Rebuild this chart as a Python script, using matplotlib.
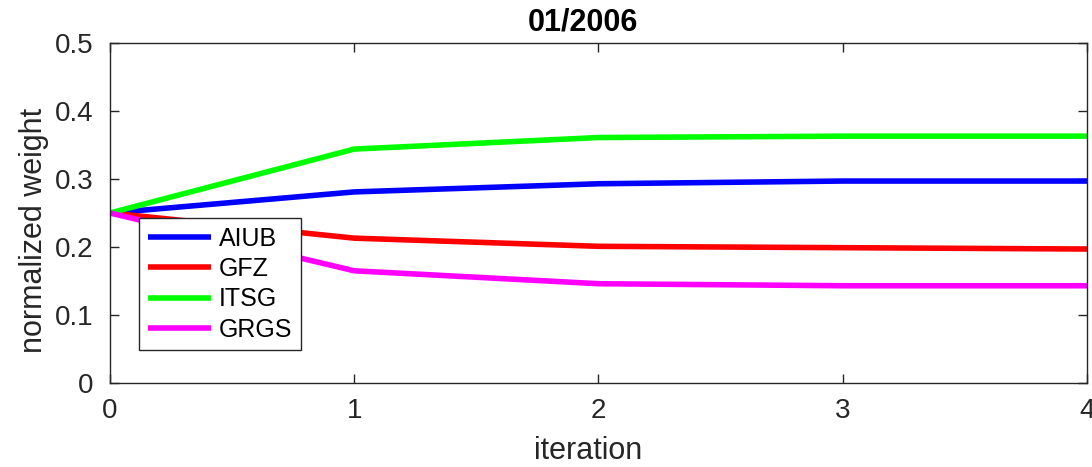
import numpy as np
from matplotlib import pyplot as plt

plt.rcParams['font.family'] = ['Liberation Sans', 'DejaVu Sans']

iterations = [0, 1, 2, 3, 4]
aiub = [0.250, 0.281, 0.293, 0.297, 0.297]
gfz = [0.250, 0.213, 0.201, 0.199, 0.197]
itsg = [0.250, 0.344, 0.361, 0.363, 0.363]
grgs = [0.250, 0.165, 0.146, 0.143, 0.143]

names = ['AIUB', 'GFZ', 'ITSG', 'GRGS']
colors = ['#0000ff', '#ff0000', '#00ff00', '#ff00ff']

# matlab-like sizes: ticks 20, labels/title 1.1x, legend 0.9x
tick_fs = 20
label_fs = 22
legend_fs = 18
edge = '#262626'

fig = plt.figure(figsize=(10.92, 4.67), dpi=100)
ax = fig.add_axes([0.1007, 0.1799, 0.8947, 0.728])

for series, name, c in zip([aiub, gfz, itsg, grgs], names, colors):
    ax.plot(iterations, series, color=c, lw=4, label=name, solid_capstyle='butt')

ax.set_xlim(0, 4)
ax.set_ylim(0, 0.5)
ax.set_xticks(iterations)
ax.set_yticks(np.arange(0, 0.51, 0.1))
ax.set_yticklabels(['0', '0.1', '0.2', '0.3', '0.4', '0.5'])

for s in ax.spines.values():
    s.set_color(edge)
    s.set_linewidth(1.0)
ax.tick_params(direction='in', length=6.5, width=1.0, color=edge, labelcolor=edge,
               labelsize=tick_fs, top=True, right=True)
ax.tick_params(axis='x', pad=11)
ax.tick_params(axis='y', pad=12)

ax.set_xlabel('iteration', fontsize=label_fs, color=edge, labelpad=10)
ax.xaxis.set_label_coords(0.489, -0.2)
ax.xaxis.label.set_va('center')
ax.set_ylabel('normalized weight', fontsize=label_fs, color=edge, labelpad=4)
ax.yaxis.label.set_y(0.45)
ax.set_title('01/2006', fontsize=label_fs, fontweight='bold', color='black', pad=9, x=0.484)

leg = ax.legend(loc='upper left', bbox_to_anchor=(0.0297, 0.485), fontsize=legend_fs,
                frameon=True, fancybox=False, framealpha=1, edgecolor=edge,
                handlelength=2.55, handletextpad=0.3, labelspacing=0.25,
                borderpad=0.35, borderaxespad=0)
leg.get_frame().set_linewidth(1.0)

fig.savefig('out.png', dpi=100)
